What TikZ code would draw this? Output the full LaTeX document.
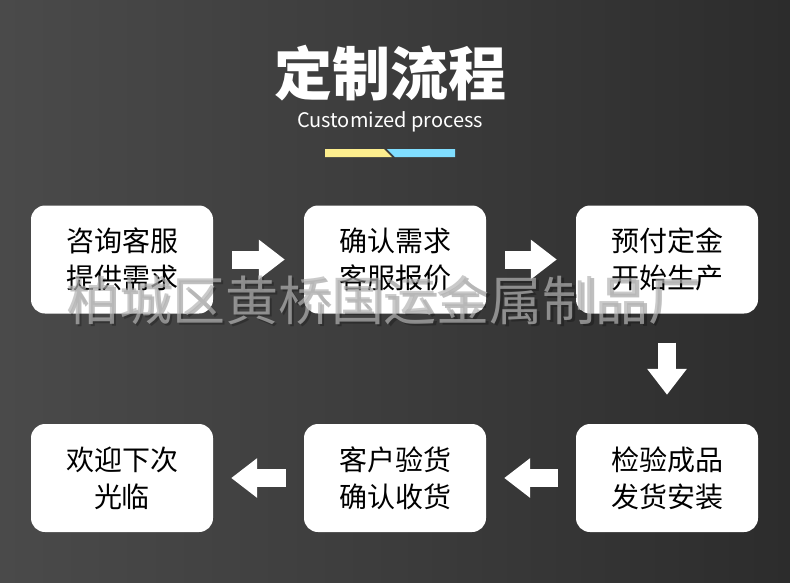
\documentclass[tikz,border=0pt]{standalone}
\usepackage{fontspec}
\newfontfamily\cjk{Noto Sans CJK SC}
\usetikzlibrary{arrows.meta}
\definecolor{bgL}{HTML}{4A4A4A}
\definecolor{bgM}{HTML}{3C3C3C}
\definecolor{bgR}{HTML}{2C2C2C}
\definecolor{barY}{HTML}{FDEE8E}
\definecolor{barC}{HTML}{80DEFF}
\definecolor{wm}{HTML}{B4B4B4}
\tikzset{
  stepbox/.style={fill=white, rounded corners=14pt, minimum width=182pt,
    minimum height=108pt, inner sep=0pt, align=center, text=black,
    font=\cjk\fontsize{28}{37}\selectfont},
  flowarrow/.style={draw=white, line width=18pt,
    -{Triangle[length=26pt,width=38pt]}},
}
\begin{document}
\begin{tikzpicture}[x=1pt,y=-1pt]
\useasboundingbox (0,0) rectangle (790,582);
\shade[left color=bgL, right color=bgR, middle color=bgM] (0,0) rectangle (790,582);
% title
\node[text=white, font=\cjk\bfseries\fontsize{58}{58}\selectfont] (title) at (390,73) {定制流程};
\node[text=white, font=\cjk\fontsize{20}{20}\selectfont, anchor=base] (sub) at (390,127) {Customized process};
\fill[barY] (325,149) -- (384,149) -- (392,157) -- (325,157) -- cycle;
\fill[barC] (387,149) -- (455,149) -- (455,157) -- (395,157) -- cycle;
% boxes
\node[stepbox] (b1) at (122,259.5) {咨询客服\\提供需求};
\node[stepbox] (b2) at (395,259.5) {确认需求\\客服报价};
\node[stepbox] (b3) at (667,259.5) {预付定金\\开始生产};
\node[stepbox] (b4) at (667,478) {检验成品\\发货安装};
\node[stepbox] (b5) at (395,478) {客户验货\\确认收货};
\node[stepbox] (b6) at (122,478) {欢迎下次\\光临};
% arrows
\draw[flowarrow, shorten <=19pt, shorten >=19pt] (b1.east) -- (b2.west);
\draw[flowarrow, shorten <=19pt, shorten >=19pt] (b2.east) -- (b3.west);
\draw[flowarrow, shorten <=29pt, shorten >=29pt] (b3.south) -- (b4.north);
\draw[flowarrow, shorten <=18pt, shorten >=18pt] (b4.west) -- (b5.east);
\draw[flowarrow, shorten <=18pt, shorten >=18pt] (b5.west) -- (b6.east);
% watermark
\node[text=black, text opacity=0.25, font=\cjk\fontsize{53}{53}\selectfont] (wmshadow) at (386,302) {柏城区黄桥国运金属制品厂};
\node[text=wm, text opacity=0.7, font=\cjk\fontsize{53}{53}\selectfont] (wmark) at (384,300) {柏城区黄桥国运金属制品厂};
\end{tikzpicture}
\end{document}
